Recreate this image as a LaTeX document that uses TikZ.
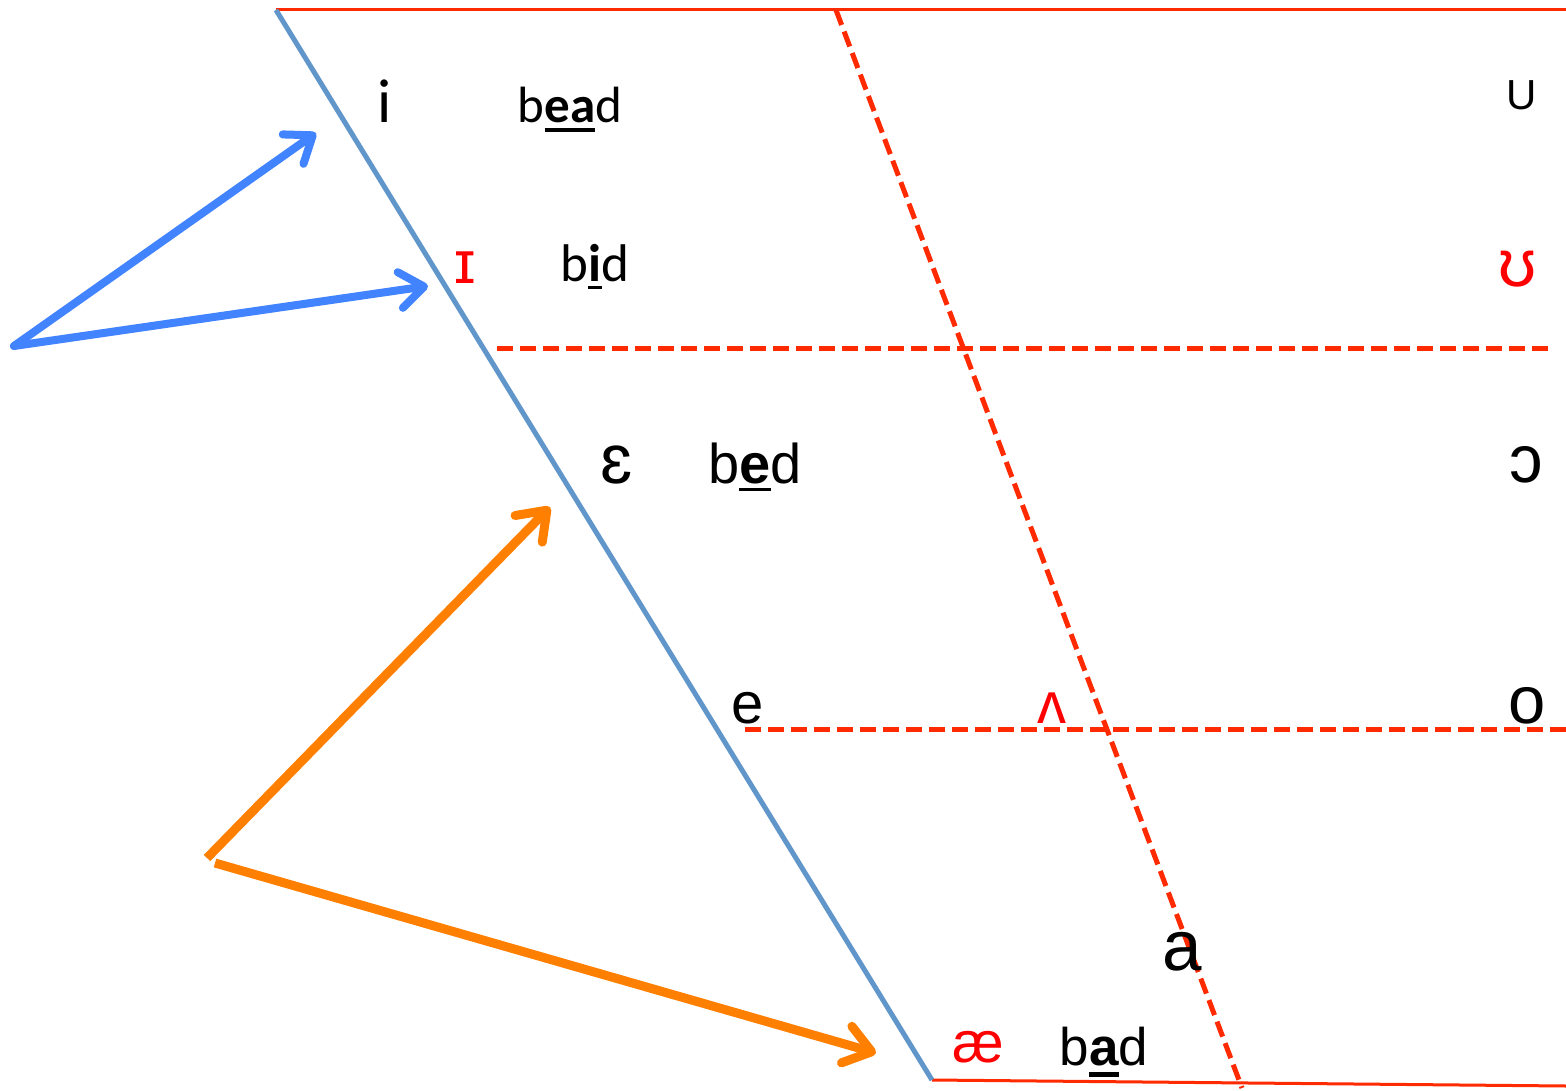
\documentclass[tikz,border=0pt]{standalone}
\usepackage{fontspec}
\setmainfont{Liberation Sans}
\newfontfamily\calfont{Carlito}
\usetikzlibrary{arrows.meta}
\definecolor{vblue}{HTML}{6096CA}
\definecolor{vred}{HTML}{FF2A00}
\definecolor{tred}{HTML}{FF0000}
\definecolor{ablue}{HTML}{4283FF}
\definecolor{aorange}{HTML}{FF8000}
\newcommand\myul[3]{\setbox0\hbox{\bfseries #3}\rlap{\rule[#1]{\wd0}{#2}}\box0}
\tikzset{
  txt/.style={anchor=base, inner sep=0pt},
  fsz/.style={font=\fontsize{#1}{#1}\selectfont},
  csz/.style={font=\calfont\fontsize{#1}{#1}\selectfont},
  frontline/.style={draw=vblue, line width=5pt},
  thinred/.style={draw=vred, line width=3pt},
  dashred/.style={draw=vred, line width=5pt, dash pattern=on 16pt off 7pt},
  bluearrow/.style={draw=ablue, line width=8pt, line cap=round, -{Straight Barb[length=24pt,width=36pt,round]}},
  orangearrow/.style={draw=aorange, line width=9pt, -{Straight Barb[length=26pt,width=38pt,round]}}
}
\begin{document}
\begin{tikzpicture}[x=1pt,y=-1pt]
\useasboundingbox[fill=white] (0,0) rectangle (1566,1091);
% coordinates
\coordinate (ftop) at (276,10);
\coordinate (fbot) at (932,1080);
\coordinate (topr) at (1566,10);
\coordinate (botr) at (1566,1086);
\coordinate (ctop) at (836,10);
\coordinate (cbot) at (1242,1088);
\coordinate (h1l) at (497,348);
\coordinate (h1r) at (1550,348);
\coordinate (h2l) at (745,729);
\coordinate (h2r) at (1566,729);
\coordinate (bs) at (14,346);
\coordinate (bt1) at (316,133);
\coordinate (bt2) at (428,286);
\coordinate (os1) at (207,858);
\coordinate (ot1) at (550,507);
\coordinate (os2) at (215,863);
\coordinate (ot2) at (876,1053);
% lines
\draw[thinred] (ftop) -- (topr);
\draw[thinred] (fbot) -- (botr);
\draw[dashred] (ctop) -- (cbot);
\draw[dashred] (h1l) -- (h1r);
\draw[dashred] (h2l) -- (h2r);
\draw[frontline] (ftop) -- (fbot);
% arrows
\draw[bluearrow] (bs) -- (bt1);
\draw[bluearrow] (bs) -- (bt2);
\draw[orangearrow] (os1) -- (ot1);
\draw[orangearrow] (os2) -- (ot2);
% texts
\node[txt, csz=62] (vi) at (385,123) {i};
\node[txt, csz=51] (wbead) at (570,123) {b\myul{-0.17em}{0.08em}{ea}d};
\node[txt, fsz=60, text=tred] (vI) at (465,284) {ɪ};
\node[txt, csz=53] (wbid) at (595,282) {b\myul{-0.13em}{0.06em}{i}d};
\node[txt, fsz=70] (veps) at (617,483) {ɛ};
\node[txt, fsz=56] (wbed) at (755,483) {b\myul{-0.15em}{0.06em}{e}d};
\node[txt, fsz=58] (ve) at (748,723) {e};
\node[txt, fsz=58, text=tred] (vwedge) at (1052,723) {ʌ};
\node[txt, fsz=67] (vo) at (1527,723) {o};
\node[txt, fsz=67] (vopen) at (1526,482) {ɔ};
\node[txt, fsz=67, text=tred] (vhorse) at (1518,287) {ʊ};
\node[txt, fsz=42] (vU) at (1522,110) {U};
\node[txt, fsz=71] (va) at (1182,970) {a};
\node[txt, fsz=58, text=tred] (vae) at (978,1062) {æ};
\node[txt, fsz=53] (wbad) at (1104,1065) {b\myul{-0.22em}{0.09em}{a}d};
\end{tikzpicture}
\end{document}
